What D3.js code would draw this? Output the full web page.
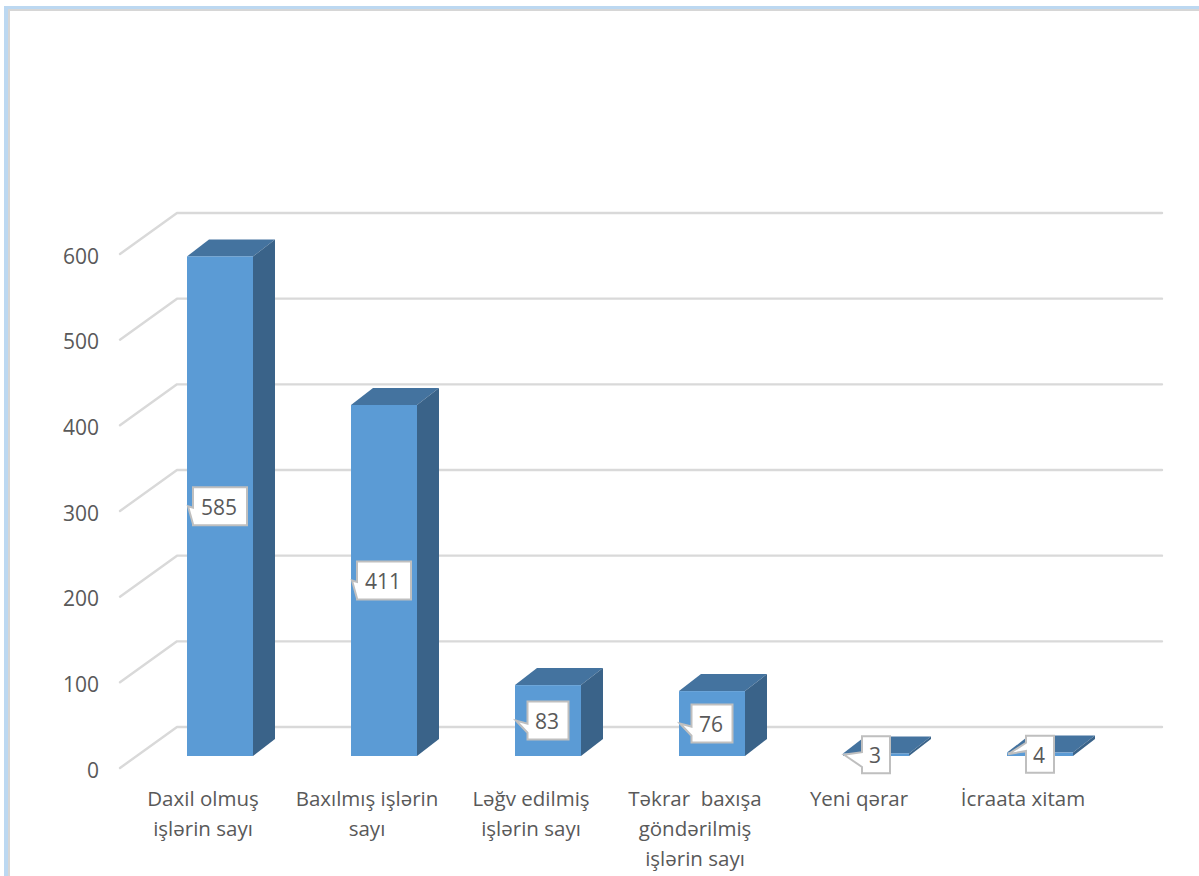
<!DOCTYPE html>
<html><head><meta charset="utf-8">
<script src="https://cdnjs.cloudflare.com/ajax/libs/d3/7.8.5/d3.min.js"></script>
<style>html,body{margin:0;padding:0;background:#fff;overflow:hidden}svg{display:block}text{font-family:"Open Sans",sans-serif;fill:#595959;white-space:pre}</style>
</head><body><svg id="c" width="1199" height="876"></svg>
<script>
const categories = [["Daxil olmuş","işlərin sayı"],["Baxılmış işlərin","sayı"],["Ləğv edilmiş","işlərin sayı"],["Təkrar  baxışa","göndərilmiş","işlərin sayı"],["Yeni qərar"],["İcraata xitam"]];
const values = [585,411,83,76,3,4];
const yTicks = [0,100,200,300,400,500,600];

const svg = d3.select("#c");
// frame
svg.append("rect").attr("x",4).attr("y",6).attr("width",1195).attr("height",870).attr("fill","#bcd8f1");
svg.append("rect").attr("x",8).attr("y",9).attr("width",1191).attr("height",867).attr("fill","#d6d6d6");
svg.append("rect").attr("x",10).attr("y",11).attr("width",1189).attr("height",865).attr("fill","#fff");

const y = d3.scaleLinear().domain([0,600]).range([727,213]);
const yBar = d3.scaleLinear().domain([0,600]).range([756,243.6]);
const x = d3.scaleBand().domain(d3.range(values.length)).range([138,1122]).paddingInner(0.5976).paddingOuter(0.2988);
const wallDx=57, wallDy=41, backX=177, rightX=1162;
const depthX=22, depthY=17;

const grid = svg.append("g").attr("fill","none").attr("stroke","#d9d9d9").attr("stroke-width",2.4).attr("stroke-linecap","round").attr("stroke-linejoin","round");
grid.selectAll("path").data(yTicks).join("path")
  .attr("d",d=>`M${backX-wallDx},${y(d)+wallDy}L${backX},${y(d)}L${rightX},${y(d)}`);

svg.append("g").selectAll("text").data(yTicks).join("text")
  .attr("x",99).attr("y",d=>y(d)+wallDy+2).attr("dy","0.36em").attr("text-anchor","end")
  .attr("font-size",21).text(d=>d);

const barY = v => yBar(v);
const bars = svg.append("g").selectAll("g").data(values).join("g");
bars.append("path").attr("fill","#44739f").attr("d",(v,i)=>{const l=x(i),r=l+x.bandwidth(),t=barY(v);
  return `M${l},${t}L${l+depthX},${t-depthY}L${r+depthX},${t-depthY}L${r},${t}Z`;});
bars.append("path").attr("fill","#3a6389").attr("d",(v,i)=>{const r=x(i)+x.bandwidth(),t=barY(v),b=barY(0);
  return `M${r},${t}L${r+depthX},${t-depthY}L${r+depthX},${b-depthY}L${r},${b}Z`;});
bars.append("rect").attr("fill","#5b9bd5").attr("x",(v,i)=>x(i)).attr("width",x.bandwidth())
  .attr("y",v=>barY(v)).attr("height",v=>barY(0)-barY(v));

// callouts: pointer base as fractions of box height, per label
const pointerBase = [[0.54,0.97],[0.54,0.97],[0.58,0.82],[0.58,0.82],[0.43,0.83],[0.19,0.41]];
const labels = svg.append("g").selectAll("g").data(values).join("g");
labels.append("path").attr("fill","#fff").attr("stroke","#bfbfbf").attr("stroke-width",2).attr("stroke-linejoin","miter")
 .attr("d",(v,i)=>{
  const cx=x(i)+x.bandwidth()/2, my=(barY(v)+barY(0))/2;
  const w=String(v).length===3?54:String(v).length===2?41:28, h=v<10?37:38;
  const l=cx-w/2, r=cx+w/2, t=my-h/2, b=t+h;
  const tip=x(i)+1;
  return `M${l},${t}L${r},${t}L${r},${b}L${l},${b}L${l},${t+h*pointerBase[i][1]}L${tip},${my}L${l},${t+h*pointerBase[i][0]}Z`;
 });
labels.append("text").attr("x",(v,i)=>x(i)+x.bandwidth()/2-1).attr("y",v=>(barY(v)+barY(0))/2+1)
  .attr("dy","0.36em").attr("text-anchor","middle").attr("font-size",21).text(v=>v);

const cat = svg.append("g").selectAll("text").data(categories).join("text")
  .attr("text-anchor","middle").attr("font-size",20.5)
  .attr("transform",(d,i)=>`translate(${x(i)+x.bandwidth()/2-17},0)`);
cat.selectAll("tspan").data(d=>d).join("tspan").attr("x",0).attr("y",(d,j)=>806+30*j).text(d=>d);
</script></body></html>
